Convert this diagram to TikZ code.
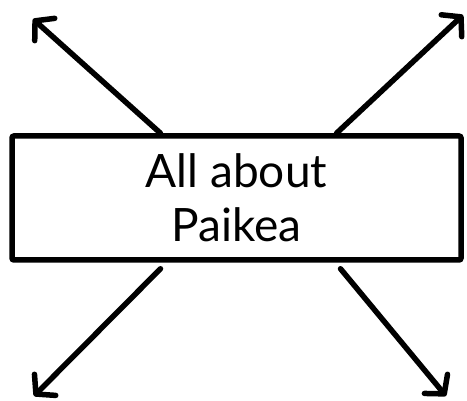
\documentclass[tikz,border=0pt]{standalone}
\usepackage{fontspec}
\setmainfont{Lato}
\usetikzlibrary{arrows.meta, positioning, calc}

\begin{document}
\begin{tikzpicture}[
  x=1pt, y=-1pt,
  titlebox/.style={draw, line width=5.5pt, rounded corners=2pt, minimum width=449pt, minimum height=124pt, font=\fontsize{46}{54}\selectfont, align=center, inner sep=0pt},
  arr/.style={line width=5.5pt, line cap=round, -{Straight Barb[length=13pt, width=30pt, round]}}
]
\useasboundingbox (0,0) rectangle (467,401);

% Central box
\node[titlebox] (topic) at (236.5,198) {All about\\Paikea};

% Arrow ends
\coordinate (nw) at (33,19);
\coordinate (ne) at (463,15);
\coordinate (sw) at (34,396);
\coordinate (se) at (446,396);

% Arrows out of the box
\draw[arr] ([xshift=-76pt]topic.north) -- (nw);
\draw[arr] ([xshift=100pt]topic.north) -- (ne);
\draw[arr] ([xshift=-76pt,yshift=-6pt]topic.south) -- (sw);
\draw[arr] ([xshift=104pt,yshift=-6pt]topic.south) -- (se);

\end{tikzpicture}
\end{document}
